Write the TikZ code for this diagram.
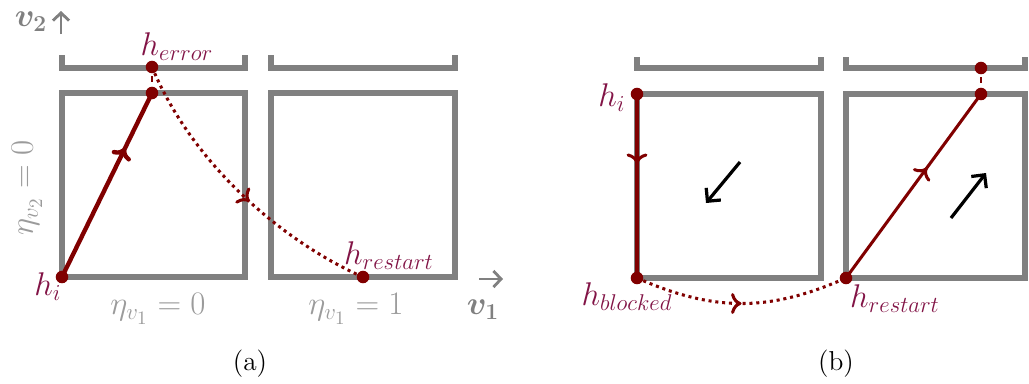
\documentclass[tikz,border=0pt]{standalone}
\usepackage{bm}
\usetikzlibrary{arrows.meta,decorations.markings}

\definecolor{pathred}{RGB}{128,0,0}
\definecolor{labelred}{RGB}{130,20,70}
\definecolor{wallgray}{RGB}{128,128,128}
\definecolor{textgray}{RGB}{155,155,155}

\begin{document}
\begin{tikzpicture}[
        x=0.0185cm, y=-0.0185cm,
        wall/.style={draw=wallgray, line width=3.2pt},
        dot/.style={circle, fill=pathred, inner sep=0pt, minimum size=6.6pt},
        lbl/.style={text=labelred, font=\LARGE, inner sep=0pt},
        axis/.style={text=textgray, font=\LARGE, inner sep=0pt},
        axisbold/.style={text=wallgray, font=\LARGE, inner sep=0pt},
        axisarrow/.style={draw=wallgray, line width=1.5pt, -{Straight Barb[length=4pt,width=8.5pt]}},
        move/.style={draw=pathred, line width=1.6pt},
        jump/.style={draw=pathred, line width=1.6pt, dash pattern=on 1.6pt off 2pt},
        link/.style={draw=pathred, line width=1.4pt, dash pattern=on 3pt off 3pt},
        tipmark/.style={postaction={decorate},
            decoration={markings, mark=at position #1 with {\arrow{To[length=5.5pt,width=11pt]}}}},
        flow/.style={-{Straight Barb[length=5pt,width=10pt]}, line width=1.7pt}
    ]
    \useasboundingbox (0,0) rectangle (1029,383);

    % (a) cells
    \draw[wall] (62,93) rectangle (245,277);
    \draw[wall] (271,93) rectangle (455,277);
    \draw[wall] (62,55) |- (245,68) -- (245,55);
    \draw[wall] (271,55) |- (455,68) -- (455,55);

    % (b) cells
    \draw[wall] (637,94) rectangle (821,278);
    \draw[wall] (846,94) rectangle (1025,278);
    \draw[wall] (637,57) |- (821,68) -- (821,57);
    \draw[wall] (846,57) |- (1025,68) -- (1025,57);

    % states
    \node[dot] (ai) at (62,277) {};
    \node[dot] (aedge) at (152,93) {};
    \node[dot] (aerr) at (152,67) {};
    \node[dot] (arest) at (363,277) {};
    \node[dot] (bi) at (637,94) {};
    \node[dot] (bblock) at (637,278) {};
    \node[dot] (brest) at (846,278) {};
    \node[dot] (bedge) at (981,94) {};
    \node[dot] (berr) at (981,68) {};

    % trajectories
    \draw[move, line width=2.3pt, tipmark=0.7] (ai.center) -- (aedge.center);
    \draw[link] (aedge.center) -- (aerr.center);
    \draw[jump, tipmark=0.55] (aerr.center) .. controls (195,170) and (290,245) .. (arest.center);
    \draw[move, tipmark=0.38] (bi.center) -- (bblock.center);
    \draw[jump, tipmark=0.5] (bblock.center) .. controls (714,312) and (769,312) .. (brest.center);
    \draw[move, tipmark=0.6] (brest.center) -- (bedge.center);
    \draw[link] (bedge.center) -- (berr.center);

    % field directions
    \coordinate (f1s) at (740,162);
    \coordinate (f1e) at (706,203);
    \coordinate (f2s) at (951,218);
    \coordinate (f2e) at (986,173);
    \draw[flow] (f1s) -- (f1e);
    \draw[flow] (f2s) -- (f2e);

    % axes
    \coordinate (v2s) at (61,34);
    \coordinate (v2e) at (61,11);
    \coordinate (v1s) at (479,279);
    \coordinate (v1e) at (503,279);
    \draw[axisarrow] (v2s) -- (v2e);
    \draw[axisarrow] (v1s) -- (v1e);

    % labels
    \node[lbl] (lerr) at (177,47) {$h_{error}$};
    \node[lbl] (lai) at (48,287) {$h_i$};
    \node[lbl] (larest) at (389,256) {$h_{restart}$};
    \node[lbl] (lbi) at (612,98) {$h_i$};
    \node[lbl] (lbblock) at (627,297) {$h_{blocked}$};
    \node[lbl] (lbrest) at (895,299) {$h_{restart}$};

    \node[axis] (eta1) at (158,309) {$\eta_{v_1}=0$};
    \node[axis] (eta2) at (356,309) {$\eta_{v_1}=1$};
    \node[axis, rotate=90] (eta3) at (27,188) {$\eta_{v_2}=0$};

    \node[axisbold] (v2) at (31,22) {$\bm{v_2}$};
    \node[axisbold] (v1) at (483,310) {$\bm{v_1}$};

    \node[font=\Large] (capa) at (250,364) {(a)};
    \node[font=\Large] (capb) at (836,364) {(b)};

\end{tikzpicture}
\end{document}
